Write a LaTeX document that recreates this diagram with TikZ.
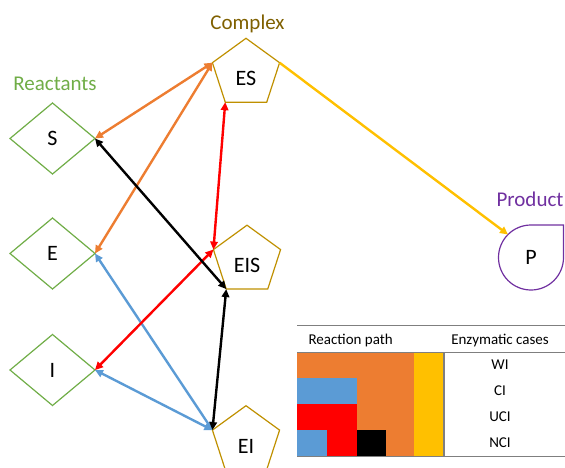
\documentclass[tikz,border=0pt]{standalone}
\usepackage{fontspec}
\setmainfont{Carlito}
\usetikzlibrary{shapes.geometric,arrows.meta}

\definecolor{cOrange}{HTML}{ED7D31}
\definecolor{cRed}{HTML}{FF0000}
\definecolor{cBlue}{HTML}{5B9BD5}
\definecolor{cYellow}{HTML}{FFC000}
\definecolor{cGold}{HTML}{BF9000}
\definecolor{cDarkGold}{HTML}{7F6000}
\definecolor{cGreen}{HTML}{70AD47}
\definecolor{cPurple}{HTML}{7030A0}
\definecolor{cRule}{HTML}{7F7F7F}

\tikzset{
  reactant/.style={diamond, draw=cGreen, line width=1.2pt, minimum width=85pt,
    minimum height=71pt, inner sep=0pt, outer sep=0pt, font=\fontsize{22}{24}\selectfont},
  complexnode/.style={regular polygon, regular polygon sides=5, draw=cGold, line width=1.2pt,
    minimum size=70.6pt, inner sep=0pt, outer sep=0pt, text height=24pt, text depth=0pt,
    font=\fontsize{22}{24}\selectfont},
  productnode/.style={circle, minimum size=65pt, inner sep=0pt, outer sep=0pt,
    font=\fontsize{22}{24}\selectfont},
  grouplabel/.style={anchor=base, font=\fontsize{21}{24}\selectfont},
  link/.style={line width=2.4pt, {Triangle[length=8pt,width=7.5pt]}-{Triangle[length=8pt,width=7.5pt]}},
  onelink/.style={line width=2.4pt, -{Triangle[length=8pt,width=7.5pt]}},
  tabtext/.style={font=\fontsize{15}{18}\selectfont},
  rule/.style={draw=cRule, line width=1pt},
}

\begin{document}
\begin{tikzpicture}[x=1pt, y=1pt]
\clip (0,0) rectangle (565,467);

% group captions
\node[grouplabel, text=cDarkGold] (capC) at (247.5,437.5) {Complex};
\node[grouplabel, text=cGreen] (capR) at (55,376.5) {Reactants};
\node[grouplabel, text=cPurple] (capP) at (530,260.3) {Product};

% reactants
\node[reactant] (S) at (52.5,328.5) {S};
\node[reactant] (E) at (52.5,213.5) {E};
\node[reactant] (I) at (52.5,97) {I};

% complexes
\node[complexnode] (ES) at (246,393.4) {ES};
\node[complexnode] (EIS) at (247,206.5) {EIS};
\node[complexnode] (EI) at (246,26) {EI};

% product (drop outline)
\node[productnode] (P) at (531,209.5) {P};
\draw[cPurple, line width=1.2pt] (P.north) -- ++(32.5,0) -- (P.east)
  arc[start angle=0, end angle=-270, radius=32.5];

% reaction paths
\draw[link, cOrange] (S.east) -- (ES.corner 2);
\draw[link, cOrange] (E.east) -- (ES.corner 2);
\draw[link, cBlue] (E.east) -- (EI.corner 2);
\draw[link, cBlue] (I.east) -- (EI.corner 2);
\draw[link, cRed] (ES.corner 3) -- (EIS.corner 2);
\draw[link, cRed] (I.east) -- (EIS.corner 2);
\draw[link, black] (S.east) -- (EIS.corner 3);
\draw[link, black] (EIS.corner 3) -- (EI.corner 2);
\draw[onelink, cYellow] (ES.corner 5) -- (P.135);

% legend table: colour blocks
\fill[cOrange] (297.3,11) rectangle (414.3,115);
\fill[cYellow] (414.3,11) rectangle (444,115);
\fill[cBlue] (297.3,63) rectangle (356.7,89);
\fill[cRed] (297.3,37) rectangle (356.7,63);
\fill[cRed] (326.7,11) rectangle (356.7,37);
\fill[cBlue] (297.3,11) rectangle (326.7,37);
\fill[black] (356.7,11) rectangle (386,37);

% legend table: rules
\draw[rule] (297.3,141.3) -- (565,141.3);
\draw[rule] (297.3,115) -- (565,115);
\draw[rule] (297.3,11) -- (565,11);
\draw[rule, line width=1.4pt] (444,115) -- (444,11);

% legend table: text
\node[tabtext, anchor=base west] (hPath) at (305,122.7) {Reaction path};
\node[tabtext, anchor=base] (hCases) at (500,122.7) {Enzymatic cases};
\node[tabtext] (rWI) at (500,102) {WI};
\node[tabtext] (rCI) at (500,76) {CI};
\node[tabtext] (rUCI) at (500,50) {UCI};
\node[tabtext] (rNCI) at (500,24) {NCI};
\end{tikzpicture}
\end{document}
